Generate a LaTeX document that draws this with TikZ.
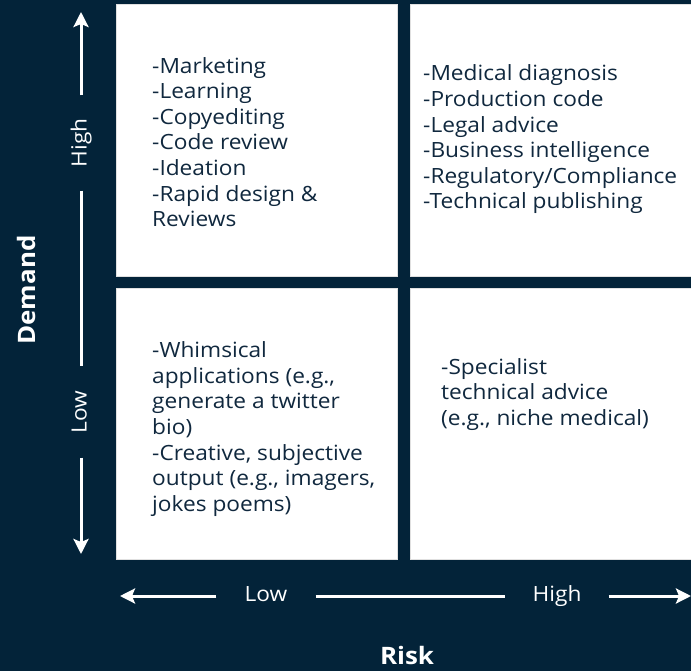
\documentclass[tikz,border=0pt]{standalone}
\usepackage{fontspec}
\setmainfont{Open Sans}[FakeStretch=1.08]
\usetikzlibrary{arrows.meta, positioning}
\definecolor{navy}{RGB}{3,35,57}
\definecolor{ink}{RGB}{16,40,62}
\tikzstyle{quad} = [draw=black!12, fill=white, line width=0.8pt, minimum width=281pt, minimum height=272pt, inner sep=0pt]
\tikzstyle{items} = [anchor=west, align=left, text=ink, inner sep=0pt, font=\fontsize{21}{25.6}\selectfont]
\tikzstyle{axis} = [draw=white, line width=3pt]
\tikzstyle{arrow} = [axis, -{Stealth[length=15pt,width=15pt,inset=3pt]}]
\tikzstyle{level} = [text=white, fill=navy, text height=15.5pt, text depth=4.5pt, font=\fontsize{21}{24}\selectfont]
\tikzstyle{title} = [text=white, font=\bfseries\fontsize{24}{28}\selectfont]

\begin{document}
\begin{tikzpicture}[x=1pt, y=-1pt]

    % --- background
    \fill[navy] (0,0) rectangle (691,671);
    \useasboundingbox (0,0) rectangle (691,671);

    % --- quadrants
    \node[quad] (lowhigh) at (256.5,140) {};
    \node[quad] (highhigh) at (550.5,140) {};
    \node[quad, minimum height=271pt] (lowlow) at (256.5,423.5) {};
    \node[quad, minimum height=271pt] (highlow) at (550.5,423.5) {};

    % --- quadrant contents
    \node[items] (lhtext) at (152,142) {-Marketing\\-Learning\\-Copyediting\\-Code review\\-Ideation\\-Rapid design \&\\Reviews};
    \node[items] (hhtext) at (423,139.5) {-Medical diagnosis\\-Production code\\-Legal advice\\-Business intelligence\\-Regulatory/Compliance\\-Technical publishing};
    \node[items] (lltext) at (152,429) {-Whimsical\\applications (e.g.,\\generate a twitter\\bio)\\-Creative, subjective\\output (e.g., imagers,\\jokes poems)};
    \node[items] (hltext) at (441,394.5) {-Specialist\\technical advice\\(e.g., niche medical)};

    % --- demand axis
    \node[level, rotate=90, inner xsep=23pt] (dhigh) at (81,143) {High};
    \node[level, rotate=90, inner xsep=24pt] (dlow) at (81,412) {Low};
    \coordinate (dtop) at (81,12);
    \coordinate (dbot) at (81,554);
    \draw[arrow] (dhigh) -- (dtop);
    \draw[axis] (dhigh) -- (dlow);
    \draw[arrow] (dlow) -- (dbot);
    \node[title, rotate=90] (demand) at (26,290) {Demand};

    % --- risk axis
    \node[level, inner xsep=28pt] (rlow) at (266,596) {Low};
    \node[level, inner xsep=27pt] (rhigh) at (557,596) {High};
    \coordinate (rleft) at (120,596);
    \coordinate (rright) at (691,596);
    \draw[arrow] (rlow) -- (rleft);
    \draw[axis] (rlow) -- (rhigh);
    \draw[arrow] (rhigh) -- (rright);
    \node[title] (risk) at (407,655) {Risk};

  \end{tikzpicture}
\end{document}
